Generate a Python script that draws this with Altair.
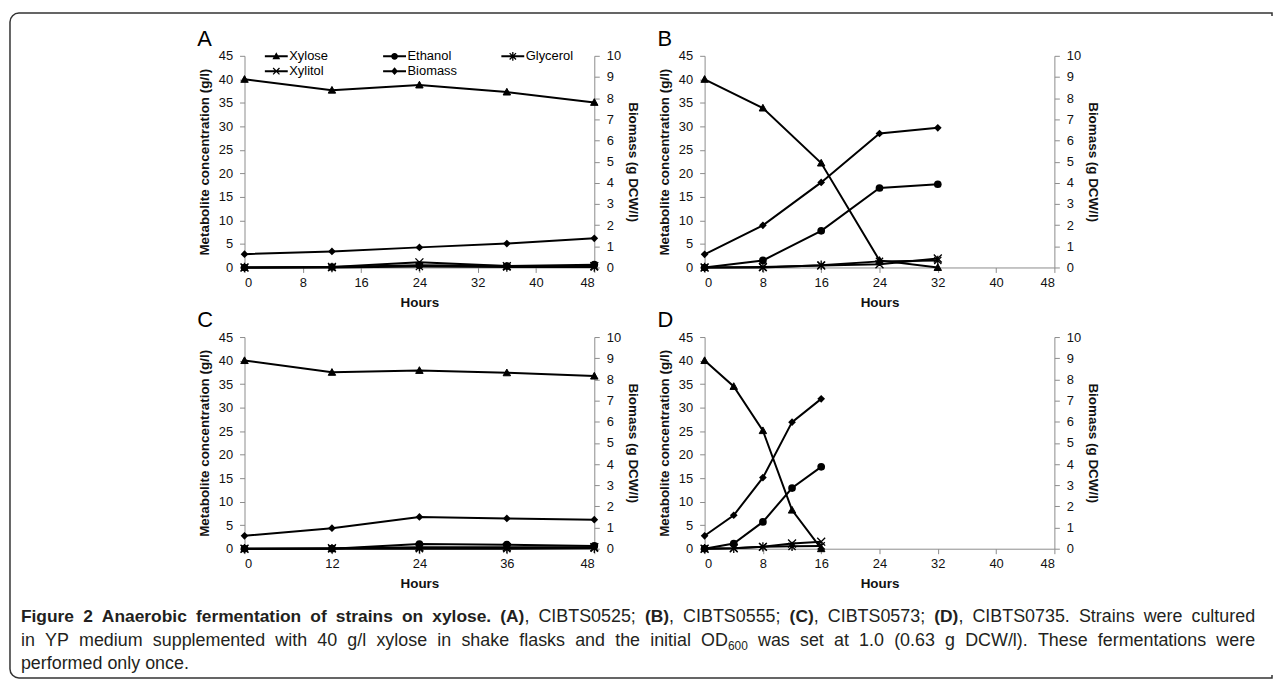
import altair as alt
import pandas as pd

SERIES = ["Xylose", "Ethanol", "Glycerol", "Xylitol", "Biomass"]
# legend grid is filled column by column: (Xylose, Xylitol), (Ethanol, Biomass), (Glycerol)
LEGEND_ORDER = ["Xylose", "Xylitol", "Ethanol", "Biomass", "Glycerol"]

# Panel A (CIBTS0525)
hours_A = [0, 12, 24, 36, 48]
xylose_A = [40.0, 37.7, 38.8, 37.3, 35.1]
ethanol_A = [0.0, 0.1, 0.5, 0.3, 0.6]
glycerol_A = [0.0, 0.0, 0.2, 0.1, 0.1]
xylitol_A = [0.0, 0.1, 1.1, 0.3, 0.3]
biomass_A = [0.63, 0.76, 0.95, 1.13, 1.38]

# Panel B (CIBTS0555)
hours_B = [0, 8, 16, 24, 32]
xylose_B = [40.0, 33.9, 22.2, 1.5, 0.0]
ethanol_B = [0.0, 1.5, 7.8, 16.9, 17.7]
glycerol_B = [0.0, 0.0, 0.5, 1.3, 1.5]
xylitol_B = [0.0, 0.1, 0.4, 0.7, 1.9]
biomass_B = [0.62, 1.99, 4.02, 6.33, 6.60]

# Panel C (CIBTS0573)
hours_C = [0, 12, 24, 36, 48]
xylose_C = [40.0, 37.5, 37.9, 37.4, 36.7]
ethanol_C = [0.0, 0.0, 1.0, 0.85, 0.6]
glycerol_C = [0.0, 0.0, 0.0, 0.0, 0.1]
xylitol_C = [0.0, 0.1, 0.3, 0.3, 0.3]
biomass_C = [0.61, 0.97, 1.50, 1.43, 1.37]

# Panel D (CIBTS0735)
hours_D = [0, 4, 8, 12, 16]
xylose_D = [40.0, 34.5, 25.1, 8.2, 0.0]
ethanol_D = [0.0, 1.1, 5.7, 12.9, 17.4]
glycerol_D = [0.0, 0.1, 0.4, 0.5, 0.6]
xylitol_D = [0.0, 0.1, 0.4, 1.1, 1.5]
biomass_D = [0.61, 1.58, 3.36, 5.98, 7.08]

# Caption text runs: (line, style, text)  b = bold, n = normal, s = subscript
cap_runs = [
    (1, "b", "Figure 2 Anaerobic fermentation of strains on xylose. "),
    (1, "b", "(A)"), (1, "n", ", CIBTS0525; "),
    (1, "b", "(B)"), (1, "n", ", CIBTS0555; "),
    (1, "b", "(C)"), (1, "n", ", CIBTS0573; "),
    (1, "b", "(D)"), (1, "n", ", CIBTS0735. Strains were cultured"),
    (2, "n", "in YP medium supplemented with 40 g/l xylose in shake flasks and the initial OD"),
    (2, "s", "600"),
    (2, "n", " was set at 1.0 (0.63 g DCW/l). These fermentations were"),
    (3, "n", "performed only once."),
]
cap_justified = [1, 2]

FONT = "Liberation Sans, Arial, sans-serif"
GRAY = "#8c8c8c"
CAP_COLOR = "#231f20"
CAP_SIZE = {"b": 17.5, "n": 18, "s": 12}

TRI = "M0,-1L1,0.8L-1,0.8Z"
AST = "M-0.8,-0.8L0.8,0.8M-0.8,0.8L0.8,-0.8M0,-1.05L0,1.05"
XSH = "M-0.8,-0.8L0.8,0.8M-0.8,0.8L0.8,-0.8"

# legend symbols: a line with the marker on it, drawn as filled outlines
_LINE = "M-1.44,-0.125L1.44,-0.125L1.44,0.125L-1.44,0.125Z"
_X = ("M-0.343,-0.457L0.457,0.343L0.343,0.457L-0.457,-0.343Z"
      "M-0.457,0.343L0.343,-0.457L0.457,-0.343L-0.343,0.457Z")
LEG_PATH = {
    "Xylose": _LINE + "M0,-0.52L0.49,0.37L-0.49,0.37Z",
    "Ethanol": _LINE + "M-0.43,0A0.43,0.43 0 1 1 0.43,0A0.43,0.43 0 1 1 -0.43,0Z",
    "Glycerol": _LINE + _X + "M-0.08,-0.55L0.08,-0.55L0.08,0.55L-0.08,0.55Z",
    "Xylitol": _LINE + _X,
    "Biomass": _LINE + "M0,-0.49L0.43,0L0,0.49L-0.43,0Z",
}

W, H = 352, 213
ORIGIN_X, ORIGIN_Y = 245, 54
ROW_GAP, COL_GAP = 70, 111
CAP_X0 = ORIGIN_X
CAP_Y0 = ORIGIN_Y + 2 * H + 2 * ROW_GAP
CAP_LEFT, CAP_RIGHT = 20, 1262
CAP_BASE = {1: 624, 2: 648, 3: 671}

# Arial / Liberation Sans advance widths (per 1000 em) for caption layout
_REG = {" ": 278, "(": 333, ")": 333, ",": 278, ".": 278, "/": 278, ";": 278,
        "A": 667, "B": 667, "C": 722, "D": 722, "F": 611, "I": 278, "O": 778,
        "P": 667, "S": 667, "T": 611, "W": 944, "Y": 667,
        "a": 556, "b": 556, "c": 500, "d": 556, "e": 556, "f": 278, "g": 556,
        "h": 556, "i": 222, "k": 500, "l": 222, "m": 833, "n": 556, "o": 556,
        "p": 556, "r": 333, "s": 500, "t": 278, "u": 556, "w": 722, "x": 500, "y": 500}
_BOLD = {" ": 278, "(": 333, ")": 333, ",": 278, ".": 278, "/": 278, ";": 333,
         "A": 722, "B": 722, "C": 722, "D": 722, "F": 611, "I": 278, "S": 667, "T": 611,
         "a": 556, "b": 611, "c": 556, "d": 611, "e": 556, "f": 333, "g": 611,
         "h": 611, "i": 278, "l": 278, "m": 889, "n": 611, "o": 611, "r": 389,
         "s": 556, "t": 333, "u": 611, "x": 556, "y": 556}


def text_width(s, style):
    table = _BOLD if style == "b" else _REG
    return sum(table.get(ch, 556) for ch in s) * CAP_SIZE[style] / 1000.0


def layout_caption():
    out = []
    for line in sorted(CAP_BASE):
        words, cur = [], []
        for ln, style, text in cap_runs:
            if ln != line:
                continue
            parts = text.split(" ")
            for i, p in enumerate(parts):
                if i > 0 and cur:
                    words.append(cur)
                    cur = []
                if p:
                    cur.append((p, style))
        if cur:
            words.append(cur)
        widths = [sum(text_width(t, s) for t, s in w) for w in words]
        space = text_width(" ", "n")
        gaps = len(words) - 1
        gap = space
        if line in cap_justified and gaps > 0:
            gap = (CAP_RIGHT - CAP_LEFT - sum(widths)) / gaps
        xpos = CAP_LEFT
        for w, ww in zip(words, widths):
            xx = xpos
            for t, s in w:
                out.append({"t": t, "s": s, "x": xx - CAP_X0,
                            "y": CAP_BASE[line] + (4 if s == "s" else 0) - CAP_Y0})
                xx += text_width(t, s)
            xpos += ww + gap
    return pd.DataFrame(out)


def panel(letter, hours, xylose, ethanol, glycerol, xylitol, biomass, xstep):
    rows = []
    for name, vals in zip(SERIES[:4], [xylose, ethanol, glycerol, xylitol]):
        for h, v in zip(hours, vals):
            rows.append({"hours": h, "value": v, "series": name})
    met = pd.DataFrame(rows)
    bio = pd.DataFrame({"hours": hours, "value": biomass, "series": ["Biomass"] * len(hours)})
    allv = pd.concat([met, bio], ignore_index=True)

    x = alt.X("hours:Q", scale=alt.Scale(domain=[0, 48], nice=False, zero=True),
              axis=alt.Axis(values=list(range(0, 49, xstep)), title="Hours",
                            labelPadding=4, titlePadding=6))
    yl = alt.Y("value:Q", scale=alt.Scale(domain=[0, 45], nice=False),
               axis=alt.Axis(values=list(range(0, 46, 5)), orient="left",
                             title="Metabolite concentration (g/l)",
                             labelPadding=7, titlePadding=7))
    yr = alt.Y("value:Q", scale=alt.Scale(domain=[0, 10], nice=False),
               axis=alt.Axis(values=list(range(0, 11)), orient="right",
                             title="Biomass (g DCW/l)", labelPadding=7, titlePadding=5))

    lines = alt.Chart(met).mark_line(color="black", strokeWidth=2).encode(
        x=x, y=yl, detail="series:N")

    def pts(name, **kw):
        return alt.Chart(met).transform_filter(alt.datum.series == name).mark_point(
            opacity=1, **kw).encode(x=x, y=yl)

    m_xyl = pts("Xylose", shape=TRI, size=56, filled=True, fill="black",
                stroke="black", strokeWidth=1)
    m_eth = pts("Ethanol", shape="circle", size=60, filled=True, fill="black")
    m_gly = pts("Glycerol", shape=AST, size=81, filled=False, stroke="black",
                strokeWidth=1.3)
    m_xyt = pts("Xylitol", shape=XSH, size=100, filled=False, stroke="black",
                strokeWidth=1.3)

    leg = alt.Chart(allv).mark_point(
        filled=True, opacity=0, size=256, color="black", fill="black").encode(
        x=x, y=yl,
        shape=alt.Shape("series:N",
                        scale=alt.Scale(domain=LEGEND_ORDER,
                                        range=[LEG_PATH[s] for s in LEGEND_ORDER]),
                        legend=alt.Legend(
                            title=None, orient="none", legendX=24, legendY=-7.5,
                            columns=3, columnPadding=44, rowPadding=0, gridAlign="all",
                            symbolSize=256, symbolStrokeWidth=0,
                            symbolFillColor="black",
                            symbolOpacity=1, labelFont=FONT, labelFontSize=13,
                            labelColor="black", labelOffset=5, padding=0)))

    bline = alt.Chart(bio).mark_line(color="black", strokeWidth=2).encode(x=x, y=yr)
    bpts = alt.Chart(bio).mark_point(shape="diamond", size=60, filled=True,
                                     fill="black", opacity=1).encode(x=x, y=yr)

    left = alt.layer(lines, m_xyl, m_eth, m_gly, m_xyt, leg)
    right = alt.layer(bline, bpts)
    return alt.layer(left, right).resolve_scale(y="independent").properties(
        width=W, height=H,
        title=alt.TitleParams(text=letter, anchor="start", frame="bounds",
                              fontSize=22, fontWeight="normal", font=FONT,
                              color="black", offset=-1))


pA = panel("A", hours_A, xylose_A, ethanol_A, glycerol_A, xylitol_A, biomass_A, 8)
pB = panel("B", hours_B, xylose_B, ethanol_B, glycerol_B, xylitol_B, biomass_B, 8)
pC = panel("C", hours_C, xylose_C, ethanol_C, glycerol_C, xylitol_C, biomass_C, 12)
pD = panel("D", hours_D, xylose_D, ethanol_D, glycerol_D, xylitol_D, biomass_D, 8)

cap = layout_caption()
cx = alt.X("x:Q", scale=None, axis=None)
cy = alt.Y("y:Q", scale=None, axis=None)
cap_base = alt.Chart(cap)


def cap_layer(style, weight):
    return cap_base.transform_filter(alt.datum.s == style).mark_text(
        align="left", baseline="alphabetic", font=FONT, fontWeight=weight,
        fontSize=CAP_SIZE[style], color=CAP_COLOR).encode(x=cx, y=cy, text="t:N")


one = alt.Chart(pd.DataFrame({"k": [0]}))
frame = one.mark_rect(fill=None, stroke="#333333", strokeWidth=1.5,
                      cornerRadiusTopLeft=9, cornerRadiusBottomLeft=9).encode(
    x=alt.value(9 - CAP_X0), x2=alt.value(1279 - CAP_X0),
    y=alt.value(11 - CAP_Y0), y2=alt.value(680 - CAP_Y0))
cover = one.mark_rule(stroke="white", strokeWidth=4).encode(
    x=alt.value(1279 - CAP_X0), y=alt.value(14 - CAP_Y0), y2=alt.value(677 - CAP_Y0))

caption = alt.layer(frame, cover, cap_layer("b", "bold"), cap_layer("n", "normal"),
                    cap_layer("s", "normal")).properties(width=W, height=1)

chart = alt.concat(pA, pB, pC, pD, caption, columns=2,
                   spacing={"row": ROW_GAP, "column": COL_GAP}, bounds="flush").properties(
    padding={"left": 1, "top": 2, "right": 0, "bottom": 0}
).configure_view(strokeWidth=0).configure_axis(
    domainColor=GRAY, tickColor=GRAY, grid=False, tickSize=5, domainWidth=1,
    tickWidth=1, labelFont=FONT, labelFontSize=13, labelColor="#111111",
    titleFont=FONT, titleFontSize=13.5, titleFontWeight="bold", titleColor="#111111")

chart.save("out.html", embed_options={"renderer": "svg", "actions": False})
